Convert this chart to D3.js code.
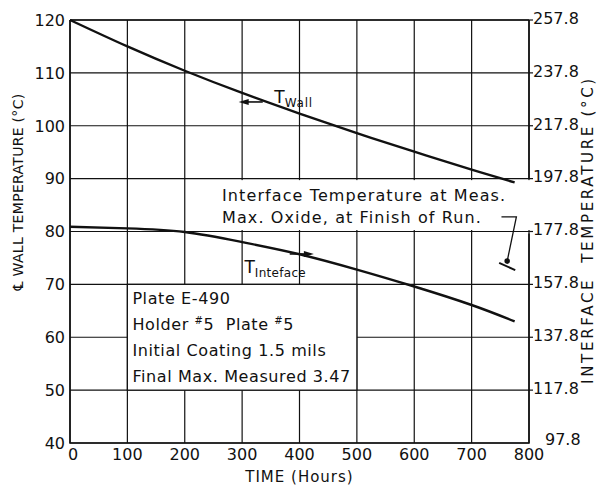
<!DOCTYPE html>
<html>
<head>
<meta charset="utf-8">
<script src="https://cdn.jsdelivr.net/npm/d3@7"></script>
<style>
    body { margin: 0; background: #fff; }
    svg text { font-family: "DejaVu Sans", sans-serif; fill: #111; }
</style>
</head>
<body>
<div id="chart"></div>
<script>
// Time axis (hours) and the two temperature curves
const hours = [0, 100, 200, 300, 400, 500, 600, 700, 775];
const wallTemp = [120, 115, 110.4, 106.2, 102.3, 98.6, 95.1, 91.7, 89.3];        // left axis, °C
const interfaceTemp = [179.6, 179.0, 177.6, 173.8, 169.2, 163.4, 157.0, 150.0, 143.8]; // right axis, °C

// Measured interface temperature at max oxide, finish of run
const markerTime = 762;
const markerTemp = 166.6;
const markerBar = [{t: 748, v: 165.9}, {t: 776, v: 163.2}];

const xTicks = [0, 100, 200, 300, 400, 500, 600, 700, 800];
const leftTicks = [40, 50, 60, 70, 80, 90, 100, 110, 120];
const rightTicks = [97.8, 117.8, 137.8, 157.8, 177.8, 197.8, 217.8, 237.8, 257.8];

const legendLines = ["Plate E-490", "Holder #5\u00a0\u00a0Plate #5", "Initial Coating 1.5 mils", "Final Max. Measured 3.47"];
const noteLines = ["Interface Temperature at Meas.", "Max. Oxide, at Finish of Run."];

const width = 600, height = 487;
const margin = {top: 20, right: 71, bottom: 44, left: 70};

const svg = d3.select("#chart")
    .append("svg")
    .attr("width", width)
    .attr("height", height)
    .attr("viewBox", [0, 0, width, height]);

const x = d3.scaleLinear()
    .domain([0, 800])
    .range([margin.left, width - margin.right]);

const yL = d3.scaleLinear()
    .domain([40, 120])
    .range([height - margin.bottom, margin.top]);

const yR = d3.scaleLinear()
    .domain([97.8, 257.8])
    .range([height - margin.bottom, margin.top]);

// grid
const grid = svg.append("g")
    .attr("stroke", "#111")
    .attr("stroke-width", 1.2);

grid.selectAll("line.h")
    .data(leftTicks)
    .join("line")
    .attr("class", "h")
    .attr("x1", x(0)).attr("x2", x(800))
    .attr("y1", d => yL(d)).attr("y2", d => yL(d));

grid.selectAll("line.v")
    .data(xTicks)
    .join("line")
    .attr("class", "v")
    .attr("x1", d => x(d)).attr("x2", d => x(d))
    .attr("y1", yL(40)).attr("y2", yL(120));

// white area behind the note text
svg.append("rect")
    .attr("x", x(255))
    .attr("y", yL(90) + 1.5)
    .attr("width", x(800) - x(255) + 3)
    .attr("height", yL(80) - yL(90) - 3)
    .attr("fill", "#fff");

// legend box
svg.append("rect")
    .attr("x", x(100))
    .attr("y", yL(70))
    .attr("width", x(500) - x(100))
    .attr("height", yL(50) - yL(70))
    .attr("fill", "#fff")
    .attr("stroke", "#111")
    .attr("stroke-width", 1.2);

// frame
svg.append("path")
    .attr("d", `M${x(0)},${yL(120)}H${x(800)}M${x(0)},${yL(120)}V${yL(40)}H${x(800)}V${yR(177.8) + 2}`)
    .attr("fill", "none")
    .attr("stroke", "#111")
    .attr("stroke-width", 1.6);
svg.append("path")
    .attr("d", `M${x(800)},${yL(120)}V${yL(90)}`)
    .attr("fill", "none")
    .attr("stroke", "#111")
    .attr("stroke-width", 1.6);

// axes labels
svg.append("g")
    .attr("font-size", 16)
    .attr("text-anchor", "end")
    .selectAll("text")
    .data(leftTicks)
    .join("text")
    .attr("x", x(0) - 5)
    .attr("y", d => yL(d))
    .attr("dy", "0.36em")
    .text(d => d);

svg.append("g")
    .attr("font-size", 16)
    .attr("text-anchor", "middle")
    .selectAll("text")
    .data(xTicks)
    .join("text")
    .attr("x", d => x(d) + (d === 0 ? 3 : 0))
    .attr("y", yL(40) + 17)
    .text(d => d);

const rightAxis = svg.append("g")
    .attr("font-size", 16);
rightAxis.selectAll("line")
    .data(rightTicks.filter(d => d > 97.8))
    .join("line")
    .attr("x1", x(800)).attr("x2", x(800) + 4)
    .attr("y1", d => yR(d)).attr("y2", d => yR(d))
    .attr("stroke", "#111")
    .attr("stroke-width", 1.2);
rightAxis.selectAll("text")
    .data(rightTicks)
    .join("text")
    .attr("x", d => x(800) + (d === 97.8 ? 16 : 4))
    .attr("y", d => yR(d) - (d === 97.8 ? 4 : 2))
    .attr("dy", "0.36em")
    .text(d => d.toFixed(1));

// axis titles
svg.append("text")
    .attr("x", x(400))
    .attr("y", height - 5)
    .attr("text-anchor", "middle")
    .attr("font-size", 15)
    .attr("letter-spacing", 1)
    .text("TIME (Hours)");

svg.append("text")
    .attr("transform", `translate(23,192) rotate(-90)`)
    .attr("text-anchor", "middle")
    .attr("font-size", 14)
    .attr("letter-spacing", 0.3)
    .text("\u2104 WALL TEMPERATURE (°C)");

svg.append("text")
    .attr("transform", `translate(593,230) rotate(-90)`)
    .attr("text-anchor", "middle")
    .attr("font-size", 15)
    .attr("letter-spacing", 2.7)
    .text("INTERFACE\u00a0\u00a0TEMPERATURE (°C)");

// curves
const wallLine = d3.line()
    .x((d, i) => x(hours[i]))
    .y(d => yL(d))
    .curve(d3.curveNatural);

const interfaceLine = d3.line()
    .x((d, i) => x(hours[i]))
    .y(d => yR(d))
    .curve(d3.curveNatural);

svg.append("path")
    .attr("d", wallLine(wallTemp))
    .attr("fill", "none")
    .attr("stroke", "#111")
    .attr("stroke-width", 2.4);

svg.append("path")
    .attr("d", interfaceLine(interfaceTemp))
    .attr("fill", "none")
    .attr("stroke", "#111")
    .attr("stroke-width", 2.4);

// arrows pointing to each curve's axis
const arrow = (x1, x2, yy) => {
    const dir = Math.sign(x2 - x1);
    svg.append("line")
        .attr("x1", x1).attr("x2", x2 - dir * 6)
        .attr("y1", yy).attr("y2", yy)
        .attr("stroke", "#111")
        .attr("stroke-width", 1.6);
    svg.append("path")
        .attr("d", `M${x2},${yy}L${x2 - dir * 10},${yy - 3}L${x2 - dir * 10},${yy + 3}Z`)
        .attr("fill", "#111");
};
arrow(x(336), x(294), yL(104.5));
arrow(x(383), x(425), yR(169.3));

const wallLabel = svg.append("text")
    .attr("x", x(356))
    .attr("y", yL(104.3))
    .attr("font-size", 17);
wallLabel.append("tspan").text("T");
wallLabel.append("tspan").attr("font-size", 12).attr("dy", 4).attr("letter-spacing", 0.8).text("Wall");

const intLabel = svg.append("text")
    .attr("x", x(304))
    .attr("y", yR(162.1))
    .attr("font-size", 17);
intLabel.append("tspan").text("T");
intLabel.append("tspan").attr("font-size", 12).attr("dy", 4).attr("letter-spacing", 0.3).text("Inteface");

// legend text
const legend = svg.append("g")
    .attr("font-size", 16)
    .attr("letter-spacing", 0.6);
legendLines.forEach((line, i) => {
    const t = legend.append("text")
        .attr("x", x(100) + 5)
        .attr("y", yL(70) + 20 + i * 26);
    if (line.includes("#")) {
        line.split(/(#)/).forEach(part => {
            if (part === "#") {
                t.append("tspan").attr("font-size", 10).attr("dy", -6).text("#");
            } else if (part.length) {
                const prev = t.selectAll("tspan").size();
                t.append("tspan").attr("dy", prev ? 6 : 0).text(part);
            }
        });
    } else {
        t.text(line);
    }
});

// note with leader to the measured point
svg.append("g")
    .attr("font-size", 16)
    .attr("letter-spacing", 1.1)
    .selectAll("text")
    .data(noteLines)
    .join("text")
    .attr("x", x(265))
    .attr("y", (d, i) => yL(85.8) + i * 22)
    .text(d => d);

const lx = x(markerTime), ly = yR(markerTemp);
svg.append("path")
    .attr("d", `M${x(752)},${yL(85.8) + 16}H${x(778)}L${lx},${ly}`)
    .attr("fill", "none")
    .attr("stroke", "#111")
    .attr("stroke-width", 1.3);
svg.append("circle")
    .attr("cx", lx).attr("cy", ly).attr("r", 2.8)
    .attr("fill", "#111");
svg.append("line")
    .attr("x1", x(markerBar[0].t)).attr("y1", yR(markerBar[0].v))
    .attr("x2", x(markerBar[1].t)).attr("y2", yR(markerBar[1].v))
    .attr("stroke", "#111")
    .attr("stroke-width", 2);
</script>
</body>
</html>
